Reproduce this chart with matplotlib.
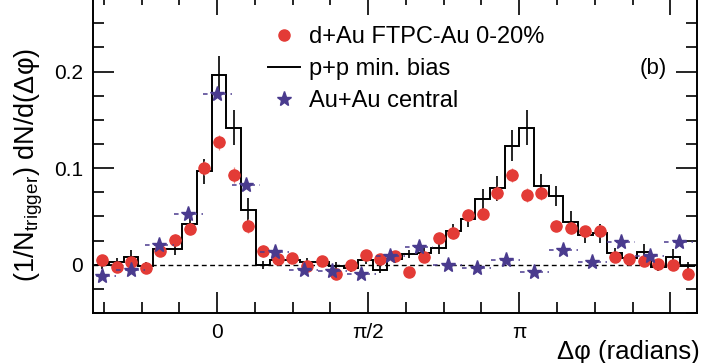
import numpy as np
import matplotlib.pyplot as plt
from matplotlib.ticker import MultipleLocator, FixedLocator

plt.rcParams['font.family'] = ['Liberation Sans', 'DejaVu Sans']
plt.rcParams['mathtext.fontset'] = 'custom'
plt.rcParams['mathtext.rm'] = 'Liberation Sans'
plt.rcParams['mathtext.it'] = 'Liberation Sans:italic'

# binning of the d+Au and p+p histograms (41 bins over 2pi)
bin_w = 0.1523
first_center = -1.198
dphi = first_center + bin_w * np.arange(41)
edges = first_center - bin_w / 2 + bin_w * np.arange(42)

# d+Au FTPC-Au 0-20%
dau = [0.005, -0.0024, 0.0028, -0.003, 0.0138, 0.026, 0.037, 0.100,
       0.1266, 0.093, 0.040, 0.014, 0.006, 0.0072, -0.001, 0.0034,
       -0.0093, -0.0007, 0.0098, 0.006, 0.009, -0.0072, 0.0076, 0.028,
       0.033, 0.0515, 0.0524, 0.0745, 0.0928, 0.0724, 0.0738, 0.0405,
       0.0378, 0.0345, 0.0353, 0.0078, 0.006, 0.0043, 0.0008, -0.0008,
       -0.0098]
dau_err = [0.005, 0.005, 0.005, 0.005, 0.005, 0.006, 0.006, 0.007,
           0.008, 0.008, 0.007, 0.006, 0.005, 0.005, 0.005, 0.005,
           0.005, 0.005, 0.005, 0.005, 0.005, 0.005, 0.005, 0.006,
           0.006, 0.006, 0.006, 0.007, 0.007, 0.007, 0.007, 0.006,
           0.006, 0.006, 0.006, 0.005, 0.005, 0.005, 0.005, 0.005,
           0.005]

# p+p min. bias
pp = [0.0, 0.003, 0.008, -0.001, 0.0165, 0.0165, 0.0417, 0.0966,
      0.1966, 0.142, 0.057, 0.0, 0.0045, 0.0045, 0.003, 0.003,
      -0.001, -0.0034, 0.0045, -0.005, 0.006, 0.011, 0.012, 0.017,
      0.035, 0.047, 0.068, 0.079, 0.123, 0.142, 0.082, 0.071,
      0.0445, 0.031, 0.0325, 0.012, 0.0065, 0.0135, -0.0025, 0.008,
      -0.0015]
pp_err = [0.004, 0.004, 0.007, 0.004, 0.005, 0.006, 0.007, 0.013,
          0.02, 0.018, 0.012, 0.004, 0.004, 0.004, 0.004, 0.004,
          0.004, 0.004, 0.004, 0.004, 0.004, 0.004, 0.005, 0.006,
          0.007, 0.008, 0.01, 0.013, 0.016, 0.018, 0.012, 0.01,
          0.011, 0.009, 0.01, 0.005, 0.004, 0.008, 0.004, 0.008,
          0.004]

# Au+Au central
auau_dphi = 0.3 * np.arange(-4, 17)
auau = [-0.012, -0.005, 0.020, 0.053, 0.177, 0.083, 0.0135, -0.005,
        -0.007, -0.010, 0.0095, 0.018, -0.0005, -0.0034, 0.0045, -0.0075,
        0.015, 0.003, 0.0235, 0.009, 0.0235]

red = '#e33b36'
blue = '#4a3b8e'

fig = plt.figure(figsize=(7.03, 3.63), dpi=100)
ax = fig.add_axes([0.1323, 0.1377, 0.8592, 0.878])

ax.axhline(0, color='black', lw=1, ls=(0, (3.5, 2.5)), zorder=1)

ax.stairs(pp, edges, baseline=None, color='black', lw=1.4, zorder=3)
ax.errorbar(dphi, pp, yerr=pp_err, fmt='none', ecolor='black', elinewidth=1.2, zorder=3)

eb = ax.errorbar(dphi, dau, yerr=dau_err, xerr=0.06, fmt='o', color=red, ms=8,
                 ecolor='#f08a85', elinewidth=0.9, zorder=4)

sb = ax.errorbar(auau_dphi, auau, xerr=0.15, fmt='*', color=blue, ms=11,
                 ecolor=blue, elinewidth=1.1, zorder=5)
sb[2][0].set_linestyle((0, (3, 3)))

ax.set_xlim(-1.29, 4.99)
ax.set_ylim(-0.05, 0.28)

ax.xaxis.set_major_locator(FixedLocator([0, np.pi / 2, np.pi, 3 * np.pi / 2]))
ax.set_xticklabels(['0', 'π/2', 'π', ''])
ax.xaxis.set_minor_locator(MultipleLocator(np.pi / 8))
ax.yaxis.set_major_locator(FixedLocator([0, 0.1, 0.2]))
ax.set_yticklabels(['0', '0.1', '0.2'])
ax.yaxis.set_minor_locator(MultipleLocator(0.025))

ax.tick_params(which='both', direction='in', top=True, right=True,
               labelsize=15, width=1.2)
ax.tick_params(which='major', length=15, pad=7)
ax.tick_params(which='minor', length=8)
for s in ax.spines.values():
    s.set_linewidth(1.4)

ax.set_ylabel(r'(1/N$_{\mathrm{trigger}}$) dN/d(Δφ)', fontsize=19.5)
ax.yaxis.set_label_coords(-0.08, 0.465)
ax.text(1.005, -0.085, 'Δφ (radians)', transform=ax.transAxes,
        ha='right', va='top', fontsize=18.5)
ax.text(0.905, 0.75, '(b)', transform=ax.transAxes, fontsize=16)

h_dau = plt.Line2D([], [], marker='o', ls='none', color=red, ms=8)
h_pp = plt.Line2D([], [], color='black', lw=1.4)
h_au = plt.Line2D([], [], marker='*', ls='none', color=blue, ms=11)
ax.legend([h_dau, h_pp, h_au],
          ['d+Au FTPC-Au 0-20%', 'p+p min. bias', 'Au+Au central'],
          loc='upper left', bbox_to_anchor=(0.29, 0.9), frameon=False,
          fontsize=17, handlelength=1.35, handletextpad=0.4,
          labelspacing=0.42, borderpad=0, borderaxespad=0)

fig.savefig('out.png', dpi=100)
